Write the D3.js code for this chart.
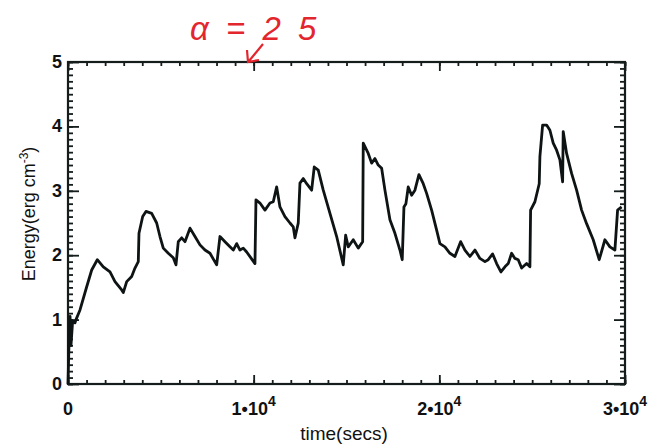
<!DOCTYPE html>
<html>
<head>
<meta charset="utf-8">
<script src="https://cdn.jsdelivr.net/npm/d3@7"></script>
<style>
  body { margin: 0; background: #fff; }
  text { font-family: "Liberation Sans", Arial, sans-serif; fill: #111; }
</style>
</head>
<body>
<svg id="chart" width="654" height="445"></svg>
<script>
// time in seconds, energy in erg cm^-3
var times = [0, 60, 110, 160, 250, 377, 431, 646, 1007, 1276, 1578, 1901, 2262, 2531, 2892, 2978,
  3161, 3430, 3608, 3786, 3823, 4023, 4200, 4507, 4776, 4954, 5132, 5401, 5670, 5816, 5940,
  6123, 6300, 6570, 6839, 7108, 7377, 7647, 8008, 8185, 8455, 8724, 8902, 9085, 9262, 9440,
  9623, 10070, 10124, 10339, 10609, 10878, 11056, 11239, 11416, 11685, 11955, 12132, 12224,
  12402, 12493, 12671, 12854, 13123, 13263, 13479, 13748, 14109, 14470, 14825, 14954, 15094,
  15363, 15633, 15870, 15902, 16171, 16354, 16532, 16710, 16893, 17070, 17340, 17609, 17878,
  18002, 18094, 18201, 18325, 18508, 18686, 18901, 19133, 19316, 19585, 19855, 20032, 20301,
  20571, 20840, 21147, 21378, 21648, 21917, 22186, 22456, 22633, 22870, 23086, 23317, 23533,
  23710, 23893, 24071, 24249, 24432, 24701, 24879, 24916, 25148, 25380, 25417, 25563, 25778,
  25956, 26134, 26317, 26494, 26640, 26672, 26855, 27124, 27394, 27663, 27932, 28288, 28611,
  28918, 29187, 29456, 29601, 29817];
var energy = [0, 0.7, 1.05, 0.6, 0.98, 0.95, 1.0, 1.15, 1.51, 1.77, 1.93, 1.82, 1.74, 1.59, 1.46, 1.42,
  1.59, 1.67, 1.80, 1.90, 2.34, 2.60, 2.68, 2.65, 2.50, 2.29, 2.11, 2.03, 1.96, 1.85, 2.21,
  2.27, 2.21, 2.42, 2.29, 2.16, 2.08, 2.03, 1.85, 2.29, 2.21, 2.13, 2.08, 2.18, 2.08, 2.11,
  2.05, 1.87, 2.86, 2.81, 2.70, 2.81, 2.83, 3.06, 2.75, 2.60, 2.50, 2.44, 2.27,
  2.50, 3.12, 3.19, 3.11, 3.01, 3.37, 3.32, 3.01, 2.65, 2.29, 1.85, 2.31, 2.13,
  2.24, 2.11, 2.21, 3.74, 3.58, 3.43, 3.50, 3.40, 3.35, 3.01, 2.55, 2.34, 2.08,
  1.93, 2.75, 2.80, 3.06, 2.93, 3.01, 3.25, 3.11, 2.96, 2.70, 2.39, 2.18, 2.13,
  2.03, 1.98, 2.21, 2.08, 1.98, 2.08, 1.95, 1.90, 1.93, 2.02, 1.87, 1.74, 1.82,
  1.87, 2.03, 1.95, 1.93, 1.80, 1.87, 1.82, 2.70, 2.83, 3.11, 3.53, 4.02, 4.02,
  3.94, 3.74, 3.63, 3.48, 3.14, 3.92, 3.58, 3.27, 3.01, 2.70, 2.49, 2.24, 1.93,
  2.24, 2.13, 2.08, 2.70, 2.75];

var xMajor = [0, 10000, 20000, 30000];
var xLabels = ["0", "1\u202210", "2\u202210", "3\u202210"];
var xSup = ["", "4", "4", "4"];
var yMajor = [0, 1, 2, 3, 4, 5];

var svg = d3.select('#chart');
var ink = '#141c1c';

var x = d3.scaleLinear().domain([0, 30000]).range([68, 625]);
var y = d3.scaleLinear().domain([0, 5]).range([384, 62]);

// Frame
svg.append('rect')
  .attr('x', 68).attr('y', 62)
  .attr('width', 625 - 68).attr('height', 384 - 62)
  .style('fill', 'none').style('stroke', ink).style('stroke-width', 2.2);

// Ticks (inward), minor then major, on all four sides
function ticks(gen, tr) {
  var g = svg.append('g').attr('transform', tr).call(gen);
  g.select('.domain').remove();
  g.selectAll('line').style('stroke', ink).style('stroke-width', 1.8);
  g.selectAll('text').remove();
  return g;
}
var xMinor = d3.range(0, 30001, 1000);
var yMinor = d3.range(0, 5.001, 0.1);
ticks(d3.axisBottom(x).tickValues(xMinor).tickSize(-4), 'translate(0,384)');
ticks(d3.axisBottom(x).tickValues(xMajor).tickSize(-9), 'translate(0,384)');
ticks(d3.axisTop(x).tickValues(xMinor).tickSize(-4), 'translate(0,62)');
ticks(d3.axisTop(x).tickValues(xMajor).tickSize(-9), 'translate(0,62)');
ticks(d3.axisLeft(y).tickValues(yMinor).tickSize(-5), 'translate(68,0)');
ticks(d3.axisLeft(y).tickValues(yMajor).tickSize(-11), 'translate(68,0)');
ticks(d3.axisRight(y).tickValues(yMinor).tickSize(-5), 'translate(625,0)');
ticks(d3.axisRight(y).tickValues(yMajor).tickSize(-11), 'translate(625,0)');

// Y tick labels
svg.selectAll('.ylab')
  .data(yMajor)
  .enter()
  .append('text')
  .attr('class', 'ylab')
  .attr('x', 62)
  .attr('y', (d) => y(d) + 6)
  .attr('text-anchor', 'end')
  .style('font-size', '18px')
  .style('font-weight', 'bold')
  .text((d) => d);

// X tick labels with superscript
var xl = svg.selectAll('.xlab')
  .data(xMajor)
  .enter()
  .append('text')
  .attr('class', 'xlab')
  .attr('x', (d) => x(d))
  .attr('y', 415)
  .attr('text-anchor', 'middle')
  .style('font-size', '18px')
  .style('font-weight', 'bold');
xl.append('tspan').text((d, i) => xLabels[i]);
xl.append('tspan')
  .attr('dy', -9)
  .style('font-size', '14px')
  .text((d, i) => xSup[i]);

// Axis titles
svg.append('text')
  .attr('x', 344).attr('y', 440)
  .attr('text-anchor', 'middle')
  .style('font-size', '19px')
  .text('time(secs)');

var yt = svg.append('text')
  .attr('transform', 'translate(35,214) rotate(-90)')
  .attr('text-anchor', 'middle')
  .style('font-size', '18px');
yt.append('tspan').text('Energy(erg cm');
yt.append('tspan').attr('dy', -7).style('font-size', '12px').text('-3');
yt.append('tspan').attr('dy', 7).text(')');

// Data line
var line = d3.line()
  .x((d) => x(d[0]))
  .y((d) => y(d[1]));

svg.append('path')
  .datum(times.map((t, i) => [t, energy[i]]))
  .attr('d', line)
  .style('fill', 'none')
  .style('stroke', '#0e1414')
  .style('stroke-width', 2.8)
  .style('stroke-linejoin', 'round');

// Handwritten annotation
var red = '#e3262e';
svg.append('text')
  .attr('x', 190).attr('y', 40)
  .style('font-size', '33px')
  .style('font-style', 'italic')
  .style('letter-spacing', '4px')
  .style('fill', red)
  .text('\u03b1 = 2 5');
svg.append('path')
  .attr('d', 'M263,44 L249,61 M247,50 L248,62 L259,60')
  .style('fill', 'none')
  .style('stroke', red)
  .style('stroke-width', 2.2);
</script>
</body>
</html>
